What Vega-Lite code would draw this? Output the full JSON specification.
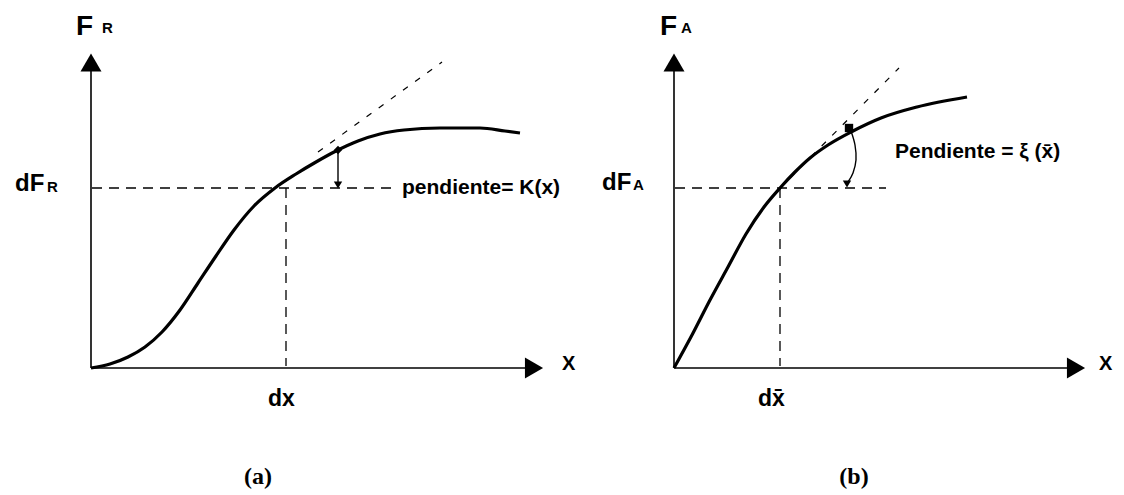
{
  "$schema": "https://vega.github.io/schema/vega-lite/v6.json",
  "width": 1124,
  "height": 495,
  "autosize": {"type": "fit", "contains": "padding"},
  "padding": 0,
  "background": "white",
  "config": {"view": {"stroke": null}},
  "datasets": {
    "curves": [
      {"panel": "a", "i": 0, "x": 91, "y": 368},
      {"panel": "a", "i": 1, "x": 110, "y": 364},
      {"panel": "a", "i": 2, "x": 128, "y": 357},
      {"panel": "a", "i": 3, "x": 145, "y": 347},
      {"panel": "a", "i": 4, "x": 162, "y": 332},
      {"panel": "a", "i": 5, "x": 180, "y": 310},
      {"panel": "a", "i": 6, "x": 198, "y": 283},
      {"panel": "a", "i": 7, "x": 216, "y": 256},
      {"panel": "a", "i": 8, "x": 234, "y": 230},
      {"panel": "a", "i": 9, "x": 254, "y": 206},
      {"panel": "a", "i": 10, "x": 275, "y": 188},
      {"panel": "a", "i": 11, "x": 296, "y": 174},
      {"panel": "a", "i": 12, "x": 316, "y": 162},
      {"panel": "a", "i": 13, "x": 336, "y": 151},
      {"panel": "a", "i": 14, "x": 358, "y": 141},
      {"panel": "a", "i": 15, "x": 380, "y": 134},
      {"panel": "a", "i": 16, "x": 404, "y": 130},
      {"panel": "a", "i": 17, "x": 440, "y": 128},
      {"panel": "a", "i": 18, "x": 480, "y": 128},
      {"panel": "a", "i": 19, "x": 505, "y": 131},
      {"panel": "a", "i": 20, "x": 520, "y": 133},
      {"panel": "b", "i": 0, "x": 674, "y": 368},
      {"panel": "b", "i": 1, "x": 692, "y": 335},
      {"panel": "b", "i": 2, "x": 710, "y": 300},
      {"panel": "b", "i": 3, "x": 728, "y": 267},
      {"panel": "b", "i": 4, "x": 746, "y": 234},
      {"panel": "b", "i": 5, "x": 764, "y": 207},
      {"panel": "b", "i": 6, "x": 780, "y": 188},
      {"panel": "b", "i": 7, "x": 795, "y": 172},
      {"panel": "b", "i": 8, "x": 810, "y": 158},
      {"panel": "b", "i": 9, "x": 828, "y": 145},
      {"panel": "b", "i": 10, "x": 853, "y": 131},
      {"panel": "b", "i": 11, "x": 881, "y": 118},
      {"panel": "b", "i": 12, "x": 917, "y": 107},
      {"panel": "b", "i": 13, "x": 967, "y": 97}
    ],
    "guides": [
      {"kind": "axis", "x": 91, "y": 368, "x2": 91, "y2": 68},
      {"kind": "axis", "x": 91, "y": 368, "x2": 530, "y2": 368},
      {"kind": "axis", "x": 674, "y": 368, "x2": 674, "y2": 68},
      {"kind": "axis", "x": 674, "y": 368, "x2": 1072, "y2": 368},
      {"kind": "level", "x": 92, "y": 188, "x2": 396, "y2": 188},
      {"kind": "level", "x": 286, "y": 188, "x2": 286, "y2": 366},
      {"kind": "level", "x": 675, "y": 188, "x2": 886, "y2": 188},
      {"kind": "level", "x": 780, "y": 188, "x2": 780, "y2": 366},
      {"kind": "tangent", "x": 318, "y": 152, "x2": 442, "y2": 62},
      {"kind": "tangent", "x": 790, "y": 178, "x2": 899, "y2": 68},
      {"kind": "angle", "x": 338, "y": 150, "x2": 338, "y2": 184}
    ],
    "heads": [
      {"kind": "axis", "shape": "triangle-up", "x": 91, "y": 62.5},
      {"kind": "axis", "shape": "triangle-right", "x": 534, "y": 368},
      {"kind": "axis", "shape": "triangle-up", "x": 674, "y": 62.5},
      {"kind": "axis", "shape": "triangle-right", "x": 1076, "y": 368},
      {"kind": "mark", "shape": "diamond", "x": 338, "y": 150},
      {"kind": "mark", "shape": "triangle-down", "x": 338, "y": 185},
      {"kind": "mark", "shape": "square", "x": 849, "y": 128},
      {"kind": "mark", "shape": "triangle-down", "x": 847, "y": 184}
    ],
    "arc": [
      {"i": 0, "x": 851, "y": 131},
      {"i": 1, "x": 855, "y": 145},
      {"i": 2, "x": 856, "y": 160},
      {"i": 3, "x": 853, "y": 173},
      {"i": 4, "x": 848, "y": 182}
    ],
    "labels": [
      {"role": "head", "label": "F", "x": 76, "y": 35},
      {"role": "head", "label": "F", "x": 660, "y": 35},
      {"role": "sub", "label": "R", "x": 102, "y": 33},
      {"role": "sub", "label": "A", "x": 681, "y": 33},
      {"role": "level", "label": "dF", "x": 15, "y": 191},
      {"role": "level", "label": "dF", "x": 602, "y": 190},
      {"role": "levelsub", "label": "R", "x": 47, "y": 192},
      {"role": "levelsub", "label": "A", "x": 633, "y": 190},
      {"role": "tick", "label": "dx", "x": 268, "y": 406},
      {"role": "tick", "label": "dx̄", "x": 758, "y": 406},
      {"role": "var", "label": "X", "x": 562, "y": 370},
      {"role": "var", "label": "X", "x": 1099, "y": 370},
      {"role": "note", "label": "pendiente=  K(x)", "x": 402, "y": 194},
      {"role": "note", "label": "Pendiente = ξ  (x̄)", "x": 895, "y": 158},
      {"role": "caption", "label": "(a)", "x": 258, "y": 484},
      {"role": "caption", "label": "(b)", "x": 854, "y": 484}
    ]
  },
  "encoding": {
    "x": {"field": "x", "type": "quantitative", "scale": {"domain": [0, 1124], "nice": false, "zero": false}, "axis": null},
    "y": {"field": "y", "type": "quantitative", "scale": {"domain": [0, 495], "nice": false, "zero": false, "reverse": true}, "axis": null}
  },
  "layer": [
    {
      "data": {"name": "guides"},
      "transform": [{"filter": "datum.kind === 'axis'"}],
      "mark": {"type": "rule", "color": "black", "strokeWidth": 1.6},
      "encoding": {"x2": {"field": "x2"}, "y2": {"field": "y2"}}
    },
    {
      "data": {"name": "guides"},
      "transform": [{"filter": "datum.kind === 'level'"}],
      "mark": {"type": "rule", "color": "black", "strokeWidth": 1.3, "strokeDash": [10, 7]},
      "encoding": {"x2": {"field": "x2"}, "y2": {"field": "y2"}}
    },
    {
      "data": {"name": "guides"},
      "transform": [{"filter": "datum.kind === 'tangent'"}],
      "mark": {"type": "rule", "color": "black", "strokeWidth": 1.2, "strokeDash": [6, 9]},
      "encoding": {"x2": {"field": "x2"}, "y2": {"field": "y2"}}
    },
    {
      "data": {"name": "guides"},
      "transform": [{"filter": "datum.kind === 'angle'"}],
      "mark": {"type": "rule", "color": "black", "strokeWidth": 1.4},
      "encoding": {"x2": {"field": "x2"}, "y2": {"field": "y2"}}
    },
    {
      "data": {"name": "arc"},
      "mark": {"type": "line", "color": "black", "strokeWidth": 1.4, "interpolate": "cardinal"},
      "encoding": {"order": {"field": "i", "type": "quantitative"}}
    },
    {
      "data": {"name": "curves"},
      "mark": {"type": "line", "color": "black", "strokeWidth": 3.2, "interpolate": "monotone"},
      "encoding": {
        "detail": {"field": "panel", "type": "nominal"},
        "order": {"field": "i", "type": "quantitative"}
      }
    },
    {
      "data": {"name": "heads"},
      "transform": [{"filter": "datum.kind === 'axis'"}],
      "mark": {"type": "point", "filled": true, "color": "black", "opacity": 1, "size": 440},
      "encoding": {"shape": {"field": "shape", "type": "nominal", "scale": null}}
    },
    {
      "data": {"name": "heads"},
      "transform": [{"filter": "datum.kind === 'mark'"}],
      "mark": {"type": "point", "filled": true, "color": "black", "opacity": 1, "size": 70},
      "encoding": {"shape": {"field": "shape", "type": "nominal", "scale": null}}
    },
    {
      "data": {"name": "labels"},
      "transform": [{"filter": "datum.role === 'head'"}],
      "mark": {"type": "text", "align": "left", "baseline": "alphabetic", "font": "Liberation Sans", "fontSize": 28, "fontWeight": "bold", "color": "black"},
      "encoding": {"text": {"field": "label"}}
    },
    {
      "data": {"name": "labels"},
      "transform": [{"filter": "datum.role === 'sub'"}],
      "mark": {"type": "text", "align": "left", "baseline": "alphabetic", "font": "Liberation Sans", "fontSize": 15, "fontWeight": "bold", "color": "black"},
      "encoding": {"text": {"field": "label"}}
    },
    {
      "data": {"name": "labels"},
      "transform": [{"filter": "datum.role === 'level'"}],
      "mark": {"type": "text", "align": "left", "baseline": "alphabetic", "font": "Liberation Sans", "fontSize": 24, "fontWeight": "bold", "color": "black"},
      "encoding": {"text": {"field": "label"}}
    },
    {
      "data": {"name": "labels"},
      "transform": [{"filter": "datum.role === 'levelsub'"}],
      "mark": {"type": "text", "align": "left", "baseline": "alphabetic", "font": "Liberation Sans", "fontSize": 15, "fontWeight": "bold", "color": "black"},
      "encoding": {"text": {"field": "label"}}
    },
    {
      "data": {"name": "labels"},
      "transform": [{"filter": "datum.role === 'tick'"}],
      "mark": {"type": "text", "align": "left", "baseline": "alphabetic", "font": "Liberation Sans", "fontSize": 23, "fontWeight": "bold", "color": "black"},
      "encoding": {"text": {"field": "label"}}
    },
    {
      "data": {"name": "labels"},
      "transform": [{"filter": "datum.role === 'var'"}],
      "mark": {"type": "text", "align": "left", "baseline": "alphabetic", "font": "Liberation Sans", "fontSize": 20, "fontWeight": "bold", "color": "black"},
      "encoding": {"text": {"field": "label"}}
    },
    {
      "data": {"name": "labels"},
      "transform": [{"filter": "datum.role === 'note'"}],
      "mark": {"type": "text", "align": "left", "baseline": "alphabetic", "font": "Liberation Sans", "fontSize": 21, "fontWeight": "bold", "color": "black"},
      "encoding": {"text": {"field": "label"}}
    },
    {
      "data": {"name": "labels"},
      "transform": [{"filter": "datum.role === 'caption'"}],
      "mark": {"type": "text", "align": "center", "baseline": "alphabetic", "font": "Liberation Serif", "fontSize": 24, "fontWeight": "bold", "color": "black"},
      "encoding": {"text": {"field": "label"}}
    }
  ]
}
